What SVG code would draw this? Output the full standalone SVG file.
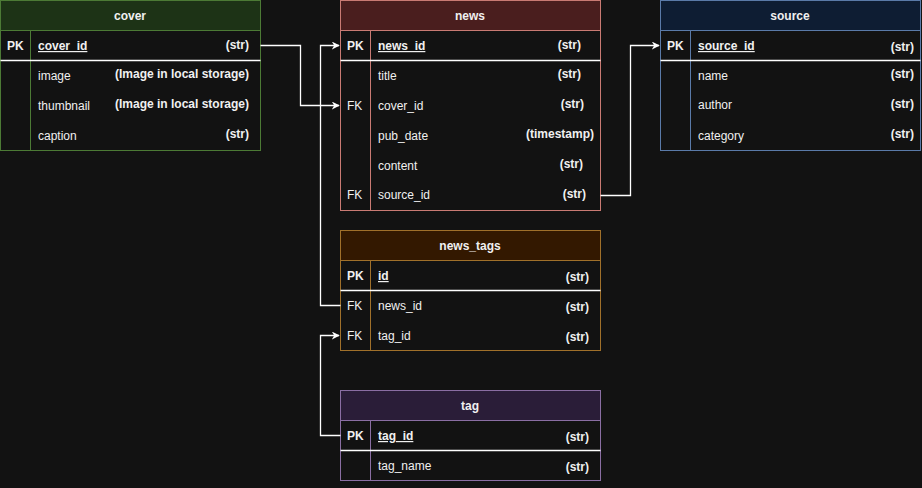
<svg xmlns="http://www.w3.org/2000/svg" width="922" height="488" viewBox="0 0 922 488">
<style>
text{font-family:"Liberation Sans",Arial,sans-serif;font-size:12px;fill:#f0f0f0}
.h{font-weight:bold;text-anchor:middle}
.b{font-weight:bold}
.k{font-weight:bold;text-decoration:underline}
.t{font-weight:bold;text-anchor:end}
.body{fill:#121212}
.sep{stroke:#ffffff;stroke-width:1.3}
.conn{fill:none;stroke:#ffffff;stroke-width:1.3}
</style>
<defs>
<marker id="arr" viewBox="0 0 10 10" refX="9" refY="5" markerWidth="8" markerHeight="8" markerUnits="userSpaceOnUse" orient="auto">
<path d="M0,0 L10,5 L0,10 L3,5 Z" fill="#ffffff"/>
</marker>
</defs>
<rect width="922" height="488" fill="#121212"/>

<g id="cover">
<rect x="0.5" y="0.5" width="260" height="150" class="body" stroke="#4c7a35"/>
<rect x="0.5" y="0.5" width="260" height="30" fill="#1d3316" stroke="#4c7a35"/>
<line x1="30.5" y1="30.5" x2="30.5" y2="150.5" stroke="#4c7a35"/>
<line x1="0.5" y1="60.5" x2="260.5" y2="60.5" class="sep"/>
<text x="130" y="20" class="h">cover</text>
<text x="7" y="50" class="b">PK</text>
<text x="38" y="50" class="k">cover_id</text>
<text x="249" y="49" class="t">(str)</text>
<text x="38" y="80">image</text>
<text x="249" y="78" class="t">(Image in local storage)</text>
<text x="38" y="110">thumbnail</text>
<text x="249" y="108" class="t">(Image in local storage)</text>
<text x="38" y="140">caption</text>
<text x="249" y="138" class="t">(str)</text>
</g>

<g id="news">
<rect x="340.5" y="0.5" width="260" height="210" class="body" stroke="#c97a73"/>
<rect x="340.5" y="0.5" width="260" height="30" fill="#4a1e1e" stroke="#c97a73"/>
<line x1="370.5" y1="30.5" x2="370.5" y2="210.5" stroke="#c97a73"/>
<line x1="340.5" y1="60.5" x2="600.5" y2="60.5" class="sep"/>
<text x="470" y="20" class="h">news</text>
<text x="347" y="50" class="b">PK</text>
<text x="378" y="50" class="k">news_id</text>
<text x="581" y="49" class="t">(str)</text>
<text x="378" y="80">title</text>
<text x="581" y="78" class="t">(str)</text>
<text x="347" y="110">FK</text>
<text x="378" y="110">cover_id</text>
<text x="584" y="108" class="t">(str)</text>
<text x="378" y="140">pub_date</text>
<text x="594" y="138" class="t">(timestamp)</text>
<text x="378" y="170">content</text>
<text x="583" y="168" class="t">(str)</text>
<text x="347" y="199">FK</text>
<text x="378" y="199">source_id</text>
<text x="586" y="198" class="t">(str)</text>
</g>

<g id="source">
<rect x="660.5" y="0.5" width="260" height="150" class="body" stroke="#5a7aa8"/>
<rect x="660.5" y="0.5" width="260" height="30" fill="#0e1d33" stroke="#5a7aa8"/>
<line x1="690.5" y1="30.5" x2="690.5" y2="150.5" stroke="#5a7aa8"/>
<line x1="660.5" y1="60.5" x2="920.5" y2="60.5" class="sep"/>
<text x="790" y="20" class="h">source</text>
<text x="667" y="50" class="b">PK</text>
<text x="698" y="50" class="k">source_id</text>
<text x="914" y="51" class="t">(str)</text>
<text x="698" y="80">name</text>
<text x="914" y="78" class="t">(str)</text>
<text x="698" y="109">author</text>
<text x="914" y="108" class="t">(str)</text>
<text x="698" y="140">category</text>
<text x="914" y="138" class="t">(str)</text>
</g>

<g id="news_tags">
<rect x="340.5" y="230.5" width="260" height="120" class="body" stroke="#a0702a"/>
<rect x="340.5" y="230.5" width="260" height="30" fill="#331800" stroke="#a0702a"/>
<line x1="370.5" y1="260.5" x2="370.5" y2="350.5" stroke="#a0702a"/>
<line x1="340.5" y1="290.5" x2="600.5" y2="290.5" class="sep"/>
<text x="470" y="250" class="h">news_tags</text>
<text x="347" y="280" class="b">PK</text>
<text x="378" y="280" class="k">id</text>
<text x="589" y="281" class="t">(str)</text>
<text x="347" y="310">FK</text>
<text x="378" y="310">news_id</text>
<text x="589" y="311" class="t">(str)</text>
<text x="347" y="340">FK</text>
<text x="378" y="340">tag_id</text>
<text x="589" y="341" class="t">(str)</text>
</g>

<g id="tag">
<rect x="340.5" y="390.5" width="260" height="90" class="body" stroke="#8a6ea3"/>
<rect x="340.5" y="390.5" width="260" height="30" fill="#2a1d38" stroke="#8a6ea3"/>
<line x1="370.5" y1="420.5" x2="370.5" y2="480.5" stroke="#8a6ea3"/>
<line x1="340.5" y1="450.5" x2="600.5" y2="450.5" class="sep"/>
<text x="470" y="410" class="h">tag</text>
<text x="347" y="440" class="b">PK</text>
<text x="378" y="440" class="k">tag_id</text>
<text x="589" y="441" class="t">(str)</text>
<text x="378" y="470">tag_name</text>
<text x="589" y="471" class="t">(str)</text>
</g>

<g id="connectors">
<path class="conn" d="M260.5,45.5 H300.5 V105.5 H339" marker-end="url(#arr)"/>
<path class="conn" d="M340.5,305.5 H320.5 V45.5 H339" marker-end="url(#arr)"/>
<path class="conn" d="M600.5,195.5 H630.5 V45.5 H659" marker-end="url(#arr)"/>
<path class="conn" d="M340.5,435.5 H320.5 V335.5 H339" marker-end="url(#arr)"/>
</g>
</svg>
